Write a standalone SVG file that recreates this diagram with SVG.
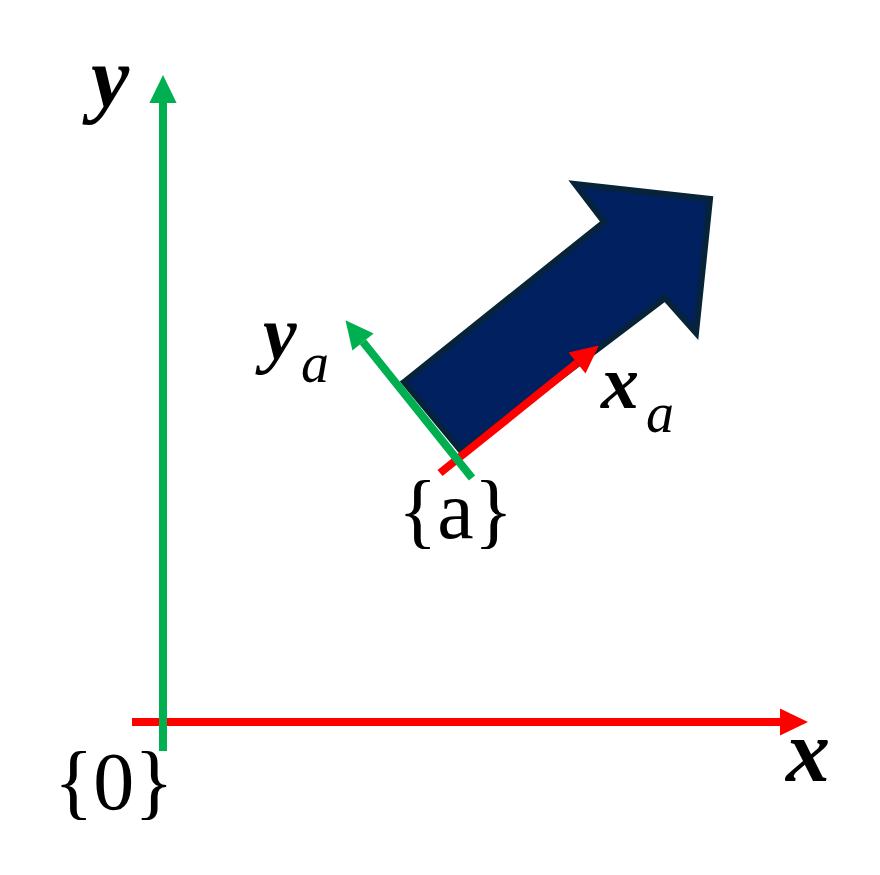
<svg xmlns="http://www.w3.org/2000/svg" width="880" height="875" viewBox="0 0 880 875">
<style>
.ax{stroke-width:8;fill:none}
.red{stroke:#FF0000}
.grn{stroke:#00B050}
.bi{font-weight:bold;font-style:italic}
.it{font-style:italic}
</style>
<defs>
<marker id="hr" markerUnits="strokeWidth" markerWidth="3.5" markerHeight="3.4" refX="0" refY="1.7" orient="auto" viewBox="0 0 3.5 3.4" overflow="visible"><path d="M0,0 L3.5,1.7 L0,3.4 z" fill="#FF0000"/></marker>
<marker id="hg" markerUnits="strokeWidth" markerWidth="3.5" markerHeight="3.4" refX="0" refY="1.7" orient="auto" viewBox="0 0 3.5 3.4" overflow="visible"><path d="M0,0 L3.5,1.7 L0,3.4 z" fill="#00B050"/></marker>
</defs>
<g id="body">
<polygon points="404,382 604,222 575,184 710,199 696,333 665,298 462,452" fill="#002060" stroke="#06233A" stroke-width="6" stroke-linejoin="miter"/>
</g>
<g id="connectors">
<line class="ax red" x1="132" y1="722" x2="780" y2="722" marker-end="url(#hr)"/>
<line class="ax grn" x1="163" y1="751" x2="163" y2="103" marker-end="url(#hg)"/>
<line class="ax red" x1="440" y1="473" x2="577" y2="363" marker-end="url(#hr)"/>
<line class="ax grn" x1="472" y1="478" x2="363" y2="342" marker-end="url(#hg)"/>
</g>
<g id="labels" font-family="Liberation Serif, Times New Roman, serif" fill="#000">
<text class="bi" x="91" y="106" font-size="86">y</text>
<text class="bi" x="786" y="781" font-size="88">x</text>
<text x="54" y="809" font-size="82">{0}</text>
<text x="398" y="538" font-size="82">{a}</text>
<text class="bi" x="601" y="408" font-size="76">x</text>
<text class="it" x="646" y="432" font-size="56">a</text>
<text class="bi" x="263" y="359" font-size="76">y</text>
<text class="it" x="301" y="382" font-size="56">a</text>
</g>
</svg>
